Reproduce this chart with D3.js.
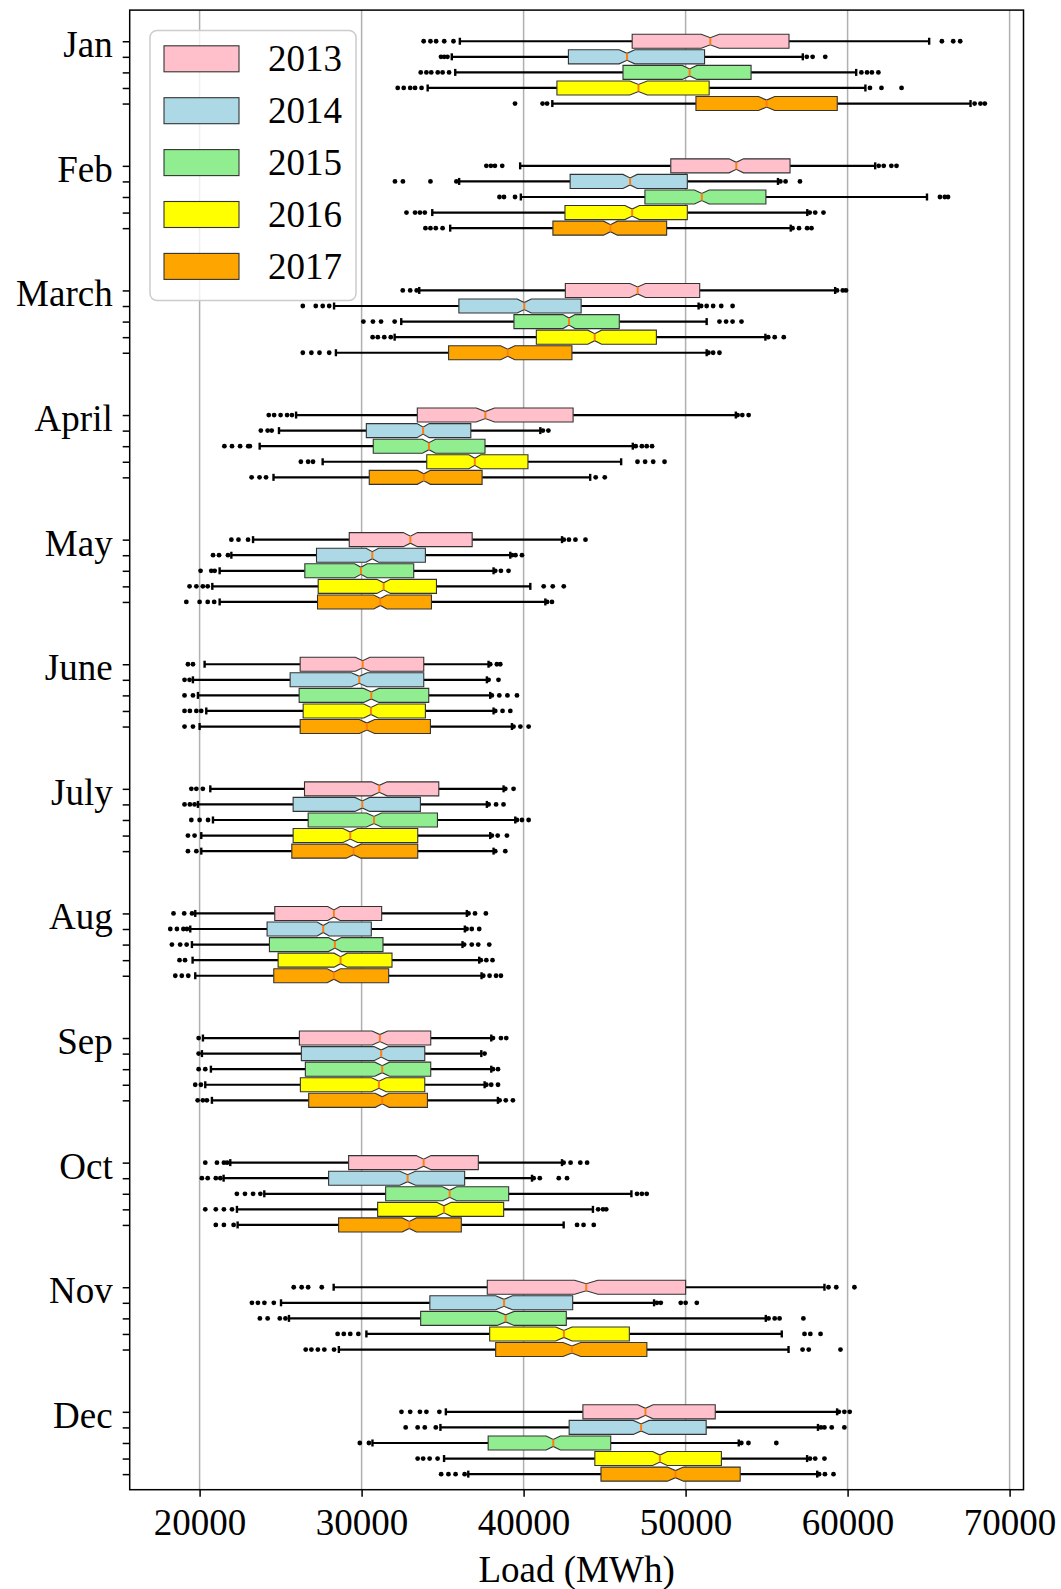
<!DOCTYPE html>
<html><head><meta charset="utf-8">
<script src="https://cdn.jsdelivr.net/npm/d3@7"></script>
<style>body{margin:0;background:#fff} text{font-family:"Liberation Serif","Times New Roman",serif}</style>
</head><body><svg id="c" width="1061" height="1589"></svg>
<script>
const months = ["Jan","Feb","March","April","May","June","July","Aug","Sep","Oct","Nov","Dec"];
const years = ["2013","2014","2015","2016","2017"];
const yearColors = ["pink","lightblue","lightgreen","yellow","orange"];
const xTicks = [20000,30000,40000,50000,60000,70000];
const xLabel = "Load (MWh)";
// hours per month per year (sample size used for the notch)
const hours = [
 [744,744,744,744,744],[672,672,672,696,672],[744,744,744,744,744],[720,720,720,720,720],
 [744,744,744,744,744],[720,720,720,720,720],[744,744,744,744,744],[744,744,744,744,744],
 [720,720,720,720,720],[744,744,744,744,744],[720,720,720,720,720],[744,744,744,744,744]];
const whiskerLow = [
 [36064,35567,35780,34078,41773],[39787,36021,39830,34362,35468],[33558,28300,32447,32040,28414],
 [25955,24900,23708,27596,24562],[23299,21959,21237,20784,21237],[20309,19588,19897,20412,20000],
 [20660,19897,20825,20103,20103],[19732,19423,19526,19567,19732],[20205,20144,20698,20349,20760],
 [21893,21482,23993,22305,22346],[28276,25025,25517,30296,28596],[35201,34866,30670,35090,36584]];
const q1 = [
 [46702,42766,46135,42057,50638],[49085,42872,47489,42553,41809],[42576,36005,39404,40786,35370],
 [33438,30292,30719,34022,30472],[29237,27216,26495,27320,27279],[26207,25588,26145,26392,26207],
 [26475,25774,26702,25774,25691],[24639,24165,24310,24846,24578],[26159,26282,26528,26221,26734],
 [29199,27964,31484,30990,28582],[37758,34212,33645,37906,38276],[43660,42812,37812,44397,44776]];
const median = [
 [51525,46383,50248,47092,55000],[53128,46574,51000,46702,45362],[47040,40039,42803,44389,39019],
 [37640,33797,34157,36988,33842],[33011,30660,29959,31361,31155],[30063,29856,30599,30578,30330],
 [31093,30042,30764,29300,29506],[28289,27629,28351,28702,28289],[31127,31209,31271,31066,31271],
 [33830,32842,35435,35085,32945],[43867,38793,38891,42487,42980],[47522,47254,41830,48415,49374]];
const q3 = [
 [56383,51170,54042,51454,59361],[56447,50106,54957,50106,48830],[50870,43552,45907,48196,42984],
 [43056,36741,37617,40269,37438],[36826,33938,33217,34620,34311],[33836,33836,34145,33938,34248],
 [34764,33630,34682,33465,33465],[31238,30599,31320,31877,31671],[34268,33899,34268,33899,34063],
 [37205,36361,39078,38769,36155],[50000,43030,42635,46527,47610],[51830,51271,45379,52210,53370]];
const whiskerHigh = [
 [65035,57234,60531,61099,67588],[61702,55702,64900,57511,56490],[59231,50802,51300,54926,51300],
 [53100,41033,46740,46021,44111],[42372,39177,38146,40414,41342],[37836,37733,37939,38146,39280],
 [38764,37733,39486,37939,38146],[36496,36372,36228,37259,37403],[38004,37389,38004,37594,38415],
 [42370,40518,46654,44280,42473],[58571,48054,54950,55936,56354],[59352,58170,53281,57500,58125]];
const fliersLow = [
 [[33830,34250,34600,35100,35670],[34900,35100,35300],[33650,34000,34300,34700,35000,35400],[32230,32600,33000,33300,33700],[39470,41170,41450]],
 [[37700,37980,38230,38680],[32060,32550,34250,35850],[38510,38790,39470],[32770,33300,33600,33900],[33940,34250,34580,35000]],
 [[32540,33000,33400],[26370,27170,27600,28000],[30110,30700,31200,32040],[30680,31000,31400,31800],[26370,26900,27400,28000]],
 [[24270,24600,25000,25400,25700],[23780,24200,24450],[21530,22000,22500,23000,23100],[26250,26700,27000],[23210,23700,24100]],
 [[21960,22400,22990],[20830,21200,21750],[20060,20720,20930],[19380,19800,20200,20500],[19180,20000,20500,20900]],
 [[19280,19590],[19070,19380],[19070,19590],[19070,19400,19800,20100],[19070,19590]],
 [[19490,19800,20200],[19070,19400,19690],[19490,20000,20520],[19280,19690],[19280,19800]],
 [[18390,19050,19530],[18190,18600,19000,19220],[18290,18800,19200],[18760,19100],[18500,18900,19300]],
 [[19940],[19940],[19940,20350],[19730,20080],[19880,20200,20450]],
 [[20350,21070,21500,21700],[20140,20500,21000,21280],[22300,22800,23300,23750],[20350,21000,21500,22000],[21000,21500,22100]],
 [[25810,26300,26700,27540],[23230,23600,24000,24580],[23720,24200,24950,25300],[28520,28900,29300,29800],[26550,26900,27300,27700,28300]],
 [[32460,33000,33600,34000,34800],[32720,33460,33900,34580],[29890,30450],[33460,33800,34200,34690],[34910,35360,35800,36360]]];
const fliersHigh = [
 [[65820,66520,66950],[57480,57840,58620],[60850,61200,61500,61900],[61380,62090,63330],[67840,68200,68470]],
 [[61920,62230,62700,63020],[55850,56170,57060],[65700,66000,66200],[57660,58000,58510],[56600,57000,57500,57770]],
 [[59350,59700,59900],[50960,51300,51700,52200,52900],[52090,52500,52900,53450],[55100,55500,56060],[51410,51700,52090]],
 [[53210,53500,53890],[41190,41530],[46920,47300,47600,47930],[47030,47500,48000,48700],[44450,45010]],
 [[42480,42800,43200,43820],[39280,39500,39900],[38250,38600,39070],[41240,41800,42480],[41450,41750]],
 [[37940,38350,38560],[37840,38450],[38040,38500,39000,39590],[38250,38700,39180],[39380,39800,40310]],
 [[38870,39380],[37840,38300,38760],[39590,39900,40310],[38040,38400,38970],[38250,38870]],
 [[36600,37000,37670],[36480,36800,37260],[36330,36800,37200,37880],[37360,37700,38080],[37510,37900,38300,38600]],
 [[38110,38600,38930],[37590],[38110,38420],[37700,38000,38420],[38520,38900,39340]],
 [[42470,42900,43500,43920],[40620,41000,42170,42680],[47000,47300,47600],[44600,44900,45100],[43300,43700,44330]],
 [[58820,59300,60420],[48230,48470,49700,50000,50690],[55120,55500,55800,57270],[57340,57700,58330],[57220,57600,59560]],
 [[59460,59800,60130],[58350,58570,59020,59800],[53440,53880,55600],[57680,58000,58570],[58240,58600,59130]]];

const M = {l:129.7, r:1023.5, t:10.1, b:1489.7};
const x = d3.scaleLinear().domain([15685,70858]).range([M.l,M.r]);
const y = d3.scaleLinear().domain([-2,93]).range([M.t,M.b]);
const svg = d3.select("#c");
const FS = 37;

// grid
svg.append("g").selectAll("line").data(xTicks).join("line")
  .attr("x1",d=>x(d)).attr("x2",d=>x(d)).attr("y1",M.t).attr("y2",M.b)
  .attr("stroke","#b0b0b0").attr("stroke-width",1.5);

const boxes = [];
months.forEach((m,i)=>years.forEach((yr,j)=>{
  const iqr = q3[i][j]-q1[i][j];
  const nh = 1.57*iqr/Math.sqrt(hours[i][j]);
  boxes.push({pos:i*8+j, j, lo:whiskerLow[i][j], q1:q1[i][j], med:median[i][j], q3:q3[i][j],
    hi:whiskerHigh[i][j], nmin:median[i][j]-nh, nmax:median[i][j]+nh,
    fl:fliersLow[i][j].concat(fliersHigh[i][j])});
}));
const bw = 0.9;
const u = Math.abs(y(1)-y(0));
const half = bw*u/2, capH = half/2;

const gB = svg.append("g");
// whiskers
gB.selectAll("line.wl").data(boxes).join("line")
  .attr("x1",d=>x(d.lo)).attr("x2",d=>x(d.q1)).attr("y1",d=>y(d.pos)).attr("y2",d=>y(d.pos))
  .attr("stroke","#000").attr("stroke-width",2.2);
gB.selectAll("line.wh").data(boxes).join("line")
  .attr("x1",d=>x(d.q3)).attr("x2",d=>x(d.hi)).attr("y1",d=>y(d.pos)).attr("y2",d=>y(d.pos))
  .attr("stroke","#000").attr("stroke-width",2.2);
// caps
["lo","hi"].forEach(k=>{
  gB.selectAll("line.cap"+k).data(boxes).join("line")
    .attr("x1",d=>x(d[k])).attr("x2",d=>x(d[k])).attr("y1",d=>y(d.pos)-capH).attr("y2",d=>y(d.pos)+capH)
    .attr("stroke","#000").attr("stroke-width",2.4);
});
// boxes
gB.selectAll("path.box").data(boxes).join("path")
  .attr("d",d=>{
    const c=y(d.pos), t=c-half, b=c+half;
    const pts=[[x(d.q1),t],[x(d.nmin),t],[x(d.med),c-capH],[x(d.nmax),t],[x(d.q3),t],
               [x(d.q3),b],[x(d.nmax),b],[x(d.med),c+capH],[x(d.nmin),b],[x(d.q1),b]];
    return "M"+pts.map(p=>p[0].toFixed(2)+","+p[1].toFixed(2)).join("L")+"Z";
  })
  .attr("fill",d=>yearColors[d.j]).attr("stroke","#333").attr("stroke-width",1.1);
// medians
gB.selectAll("line.med").data(boxes).join("line")
  .attr("x1",d=>x(d.med)).attr("x2",d=>x(d.med)).attr("y1",d=>y(d.pos)-capH).attr("y2",d=>y(d.pos)+capH)
  .attr("stroke","#ff7f0e").attr("stroke-width",2);
// fliers
const fl = [];
boxes.forEach(d=>d.fl.forEach(v=>fl.push({v,pos:d.pos})));
gB.selectAll("circle").data(fl).join("circle")
  .attr("cx",d=>x(d.v)).attr("cy",d=>y(d.pos)).attr("r",2.4).attr("fill","#000");

// axes
const xa = svg.append("g").attr("transform",`translate(0,${M.b})`)
  .call(d3.axisBottom(x).tickValues(xTicks).tickFormat(d3.format("d")).tickSize(7).tickPadding(12));
const positions = d3.range(12).flatMap(i=>d3.range(5).map(j=>i*8+j));
const ya = svg.append("g").attr("transform",`translate(${M.l},0)`)
  .call(d3.axisLeft(y).tickValues(positions).tickFormat(d=>d%8===0?months[d/8]:"").tickSize(7).tickPadding(10));
[xa,ya].forEach(a=>{
  a.select(".domain").remove();
  a.selectAll(".tick line").attr("stroke","#000").attr("stroke-width",1.5);
  a.selectAll(".tick text").attr("fill","#000").style("font-size",FS+"px")
   .style("font-family","'Liberation Serif',serif");
});
ya.selectAll(".tick text").attr("dy","0.42em");
svg.append("rect").attr("x",M.l).attr("y",M.t).attr("width",M.r-M.l).attr("height",M.b-M.t)
  .attr("fill","none").attr("stroke","#000").attr("stroke-width",1.5);
svg.append("text").attr("x",(M.l+M.r)/2).attr("y",1582).attr("text-anchor","middle")
  .style("font-size",FS+"px").text(xLabel);

// legend
const lg = svg.append("g");
lg.append("rect").attr("x",150).attr("y",30.5).attr("width",206).attr("height",270).attr("rx",7)
  .attr("fill","#fff").attr("fill-opacity",0.8).attr("stroke","#cccccc").attr("stroke-width",1.5);
years.forEach((yr,j)=>{
  const cy = 58.8 + j*51.9;
  lg.append("rect").attr("x",164).attr("y",cy-13).attr("width",75).attr("height",26)
    .attr("fill",yearColors[j]).attr("stroke","#333").attr("stroke-width",1.1);
  lg.append("text").attr("x",268).attr("y",cy+12.5).style("font-size",FS+"px").text(yr);
});
</script></body></html>
